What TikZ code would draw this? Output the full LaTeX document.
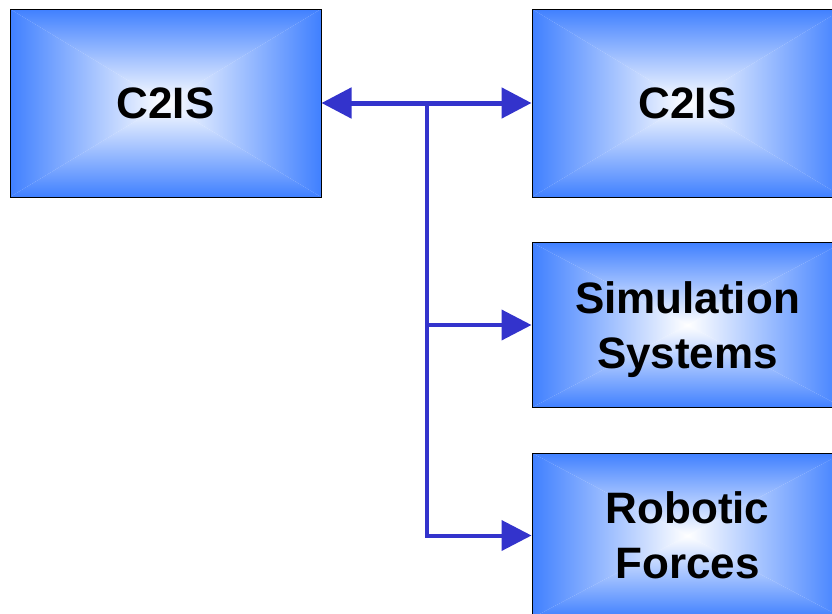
\documentclass[tikz,border=0pt]{standalone}
\usepackage{fontspec}
\setmainfont{Liberation Sans}
\usetikzlibrary{arrows.meta}
\definecolor{boxblue}{RGB}{64,128,255}
\definecolor{linkblue}{RGB}{51,51,204}
\colorlet{boxmid}{boxblue!38!white}
\tikzset{
  % rectangular "from centre" gradient: four triangles meeting in the middle
  pyrbox/.style={
    rectangle, draw=black, line width=1pt, inner sep=0pt, text depth=0pt,
    align=center, font=\fontsize{44}{55}\selectfont\bfseries,
    path picture={
      \coordinate (pnw) at (path picture bounding box.north west);
      \coordinate (pne) at (path picture bounding box.north east);
      \coordinate (psw) at (path picture bounding box.south west);
      \coordinate (pse) at (path picture bounding box.south east);
      \coordinate (pc)  at (path picture bounding box.center);
      \shade[top color=boxblue, middle color=boxmid, bottom color=white] (pnw) -- (pne) -- (pc) -- cycle;
      \shade[top color=white, middle color=boxmid, bottom color=boxblue] (psw) -- (pse) -- (pc) -- cycle;
      \shade[left color=boxblue, middle color=boxmid, right color=white] (pnw) -- (psw) -- (pc) -- cycle;
      \shade[left color=white, middle color=boxmid, right color=boxblue] (pne) -- (pse) -- (pc) -- cycle;
    }
  },
  link/.style={draw=linkblue, line width=5pt},
  tip/.style={-{Triangle[length=30pt,width=30pt]}},
}
\begin{document}
\begin{tikzpicture}[x=1pt,y=-1pt]
  \useasboundingbox (0,0) rectangle (832,613);
  \clip (0,0) rectangle (832,613);
  \fill[white] (0,0) rectangle (832,613);

  \node[pyrbox, minimum width=311pt, minimum height=188pt] (c2isA) at (165.5,103) {C2IS};
  \node[pyrbox, minimum width=311pt, minimum height=188pt] (c2isB) at (687.5,103) {C2IS};
  \node[pyrbox, minimum width=311pt, minimum height=165pt] (sim) at (687.5,325) {Simulation\\Systems};
  \node[pyrbox, minimum width=311pt, minimum height=165pt] (robot) at (687.5,535.5) {Robotic\\Forces};

  \coordinate (junction) at (426.5,103);

  \draw[link, {Triangle[length=30pt,width=30pt]}-{Triangle[length=30pt,width=30pt]}] (c2isA.east) -- (c2isB.west);
  \draw[link, line width=4pt, tip] (junction) |- (sim.west);
  \draw[link, line width=4pt, tip] (junction) |- (robot.west);
\end{tikzpicture}
\end{document}
